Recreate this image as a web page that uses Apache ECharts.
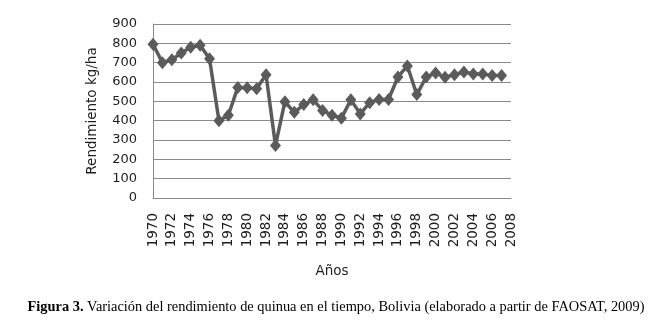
<!DOCTYPE html>
<html>
<head>
<meta charset="utf-8">
<script src="https://cdn.jsdelivr.net/npm/echarts@6/dist/echarts.min.js"></script>
<style>
  html, body { margin: 0; padding: 0; background: #fff; }
  #chart { width: 672px; height: 327px; }
</style>
</head>
<body>
<div id="chart"></div>
<script>
// Years on the category axis (last one has no value, it closes the axis)
const years = [];
for (let y = 1970; y <= 2008; y++) years.push(String(y));

// Quinoa yield in Bolivia, kg/ha, 1970–2007
const yieldKgHa = [
  795, 700, 715, 750, 780, 790, 720, 400, 428, 572,
  570, 565, 638, 272, 498, 443, 483, 508, 453, 428,
  413, 508, 435, 493, 510, 510, 626, 683, 535, 626,
  646, 625, 638, 652, 642, 642, 633, 633
];

const yTicks = { min: 0, max: 900, step: 100 };

const labelFont = 'DejaVu Sans';

const chart = echarts.init(document.getElementById('chart'));
chart.setOption({
  animation: false,
  backgroundColor: '#ffffff',
  grid: { left: 153, top: 24, width: 358, height: 174, containLabel: false },
  title: {
    text: '{b|Figura 3.} Variación del rendimiento de quinua en el tiempo, Bolivia (elaborado a partir de FAOSAT, 2009)',
    left: 'center',
    top: 295,
    textStyle: {
      fontFamily: 'Liberation Serif',
      fontSize: 14.4,
      fontWeight: 'normal',
      color: '#000',
      rich: {
        b: { fontFamily: 'Liberation Serif', fontSize: 14.4, fontWeight: 'bold', color: '#000' }
      }
    }
  },
  xAxis: {
    type: 'category',
    data: years,
    boundaryGap: false,
    name: 'Años',
    nameLocation: 'middle',
    nameGap: 66,
    nameTextStyle: { fontFamily: labelFont, fontSize: 13.5, color: '#1e1e1e' },
    axisLine: { lineStyle: { color: '#8a8a8a', width: 1 } },
    axisTick: { show: false },
    axisLabel: {
      interval: 1,
      rotate: 90,
      margin: 15,
      fontFamily: labelFont,
      fontSize: 13.5,
      color: '#1e1e1e'
    },
    splitLine: { show: false }
  },
  yAxis: {
    type: 'value',
    min: yTicks.min,
    max: yTicks.max,
    interval: yTicks.step,
    name: 'Rendimiento kg/ha',
    nameLocation: 'middle',
    nameGap: 54,
    nameTextStyle: { fontFamily: labelFont, fontSize: 13.5, color: '#1e1e1e' },
    axisLine: { show: true, lineStyle: { color: '#8a8a8a', width: 1 } },
    axisTick: { show: false },
    axisLabel: { margin: 16, fontFamily: labelFont, fontSize: 13, color: '#1e1e1e' },
    splitLine: { show: true, lineStyle: { color: '#8a8a8a', width: 1 } }
  },
  series: [{
    type: 'line',
    data: yieldKgHa,
    showAllSymbol: true,
    symbol: 'diamond',
    symbolSize: [11, 13],
    lineStyle: { color: '#5b5b5b', width: 3.5 },
    itemStyle: { color: '#5b5b5b', borderWidth: 0 }
  }]
});
</script>
</body>
</html>
